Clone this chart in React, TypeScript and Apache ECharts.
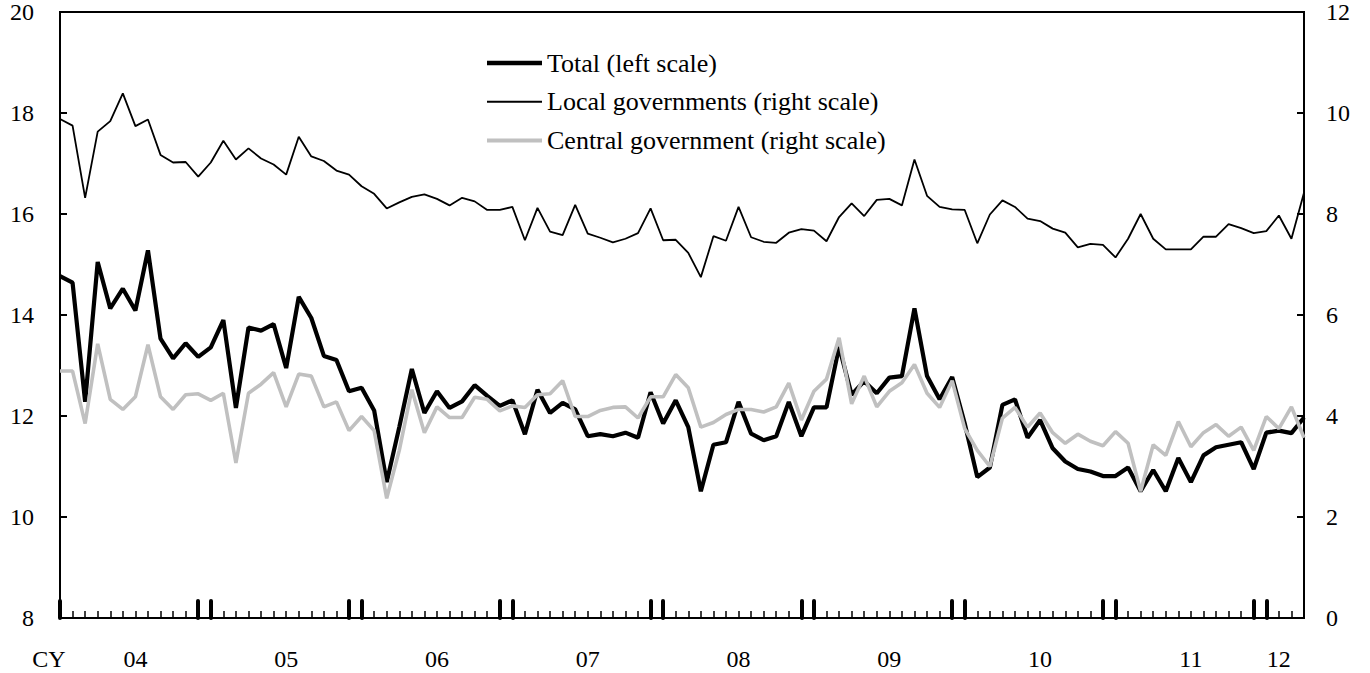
import React, { useEffect, useRef } from "react";
import * as echarts from "echarts";

// Monthly categories Jan 2004 – Apr 2012
const months: string[] = [];
for (let y = 2004; y <= 2012; y++) {
  for (let m = 1; m <= 12; m++) {
    if (months.length < 100) months.push(`${y}-${m < 10 ? "0" + m : m}`);
  }
}

// Year label tick positions (month) and texts
const yearLabelMonths = ["2004-07", "2005-07", "2006-07", "2007-07", "2008-07", "2009-07", "2010-07", "2011-07", "2012-02"];
const yearLabels = ["04", "05", "06", "07", "08", "09", "10", "11", "12"];
const axisPrefix = "CY";

const leftTicks = [8, 10, 12, 14, 16, 18, 20];
const rightTicks = [0, 2, 4, 6, 8, 10, 12];

const seriesNames = ["Total (left scale)", "Local governments (right scale)", "Central government (right scale)"];

const total = [
  14.77, 14.64, 12.28, 15.05, 14.13, 14.52, 14.09, 15.28, 13.53, 13.14,
  13.44, 13.17, 13.36, 13.9, 12.16, 13.75, 13.69, 13.82, 12.95, 14.36,
  13.94, 13.19, 13.11, 12.49, 12.56, 12.11, 10.69, 11.78, 12.93, 12.06,
  12.49, 12.16, 12.29, 12.61, 12.4, 12.2, 12.31, 11.64, 12.52, 12.06,
  12.26, 12.13, 11.6, 11.64, 11.6, 11.67, 11.57, 12.47, 11.85, 12.31,
  11.78, 10.51, 11.43, 11.48, 12.28, 11.65, 11.52, 11.6, 12.28, 11.6,
  12.17, 12.17, 13.37, 12.42, 12.69, 12.45, 12.76, 12.79, 14.13, 12.79,
  12.33, 12.77, 11.85, 10.79, 10.98, 12.22, 12.33, 11.57, 11.92, 11.36,
  11.1, 10.95, 10.9, 10.81, 10.81, 10.98, 10.51, 10.93, 10.51, 11.17,
  10.69, 11.22, 11.38, 11.43, 11.48, 10.95, 11.67, 11.71, 11.66, 11.97,
];

const local = [
  9.88, 9.75, 8.32, 9.63, 9.84, 10.39, 9.74, 9.87, 9.17, 9.02,
  9.03, 8.74, 9.02, 9.45, 9.08, 9.3, 9.1, 8.98, 8.78, 9.53,
  9.14, 9.05, 8.86, 8.78, 8.55, 8.4, 8.11, 8.23, 8.34, 8.39,
  8.3, 8.17, 8.32, 8.25, 8.08, 8.08, 8.14, 7.48, 8.12, 7.65,
  7.58, 8.18, 7.61, 7.53, 7.44, 7.51, 7.62, 8.11, 7.48, 7.49,
  7.23, 6.75, 7.56, 7.47, 8.14, 7.54, 7.45, 7.43, 7.63, 7.7,
  7.67, 7.46, 7.94, 8.21, 7.96, 8.28, 8.3, 8.17, 9.08, 8.36,
  8.14, 8.09, 8.08, 7.42, 7.99, 8.27, 8.14, 7.91, 7.86, 7.71,
  7.63, 7.34, 7.41, 7.39, 7.14, 7.51, 8.0, 7.51, 7.3, 7.3,
  7.3, 7.55, 7.55, 7.8, 7.72, 7.62, 7.66, 7.97, 7.51, 8.42,
];

const central = [
  4.89, 4.89, 3.85, 5.43, 4.33, 4.13, 4.38, 5.41, 4.38, 4.13,
  4.42, 4.44, 4.31, 4.45, 3.07, 4.45, 4.63, 4.86, 4.18, 4.83,
  4.79, 4.18, 4.28, 3.71, 3.99, 3.71, 2.37, 3.32, 4.52, 3.67,
  4.18, 3.97, 3.97, 4.37, 4.33, 4.1, 4.2, 4.17, 4.42, 4.44,
  4.7, 3.99, 3.99, 4.11, 4.17, 4.18, 3.96, 4.38, 4.38, 4.82,
  4.56, 3.78, 3.87, 4.03, 4.13, 4.13, 4.08, 4.18, 4.65, 3.92,
  4.49, 4.73, 5.55, 4.24, 4.79, 4.18, 4.49, 4.66, 5.02, 4.45,
  4.17, 4.7, 3.75, 3.32, 3.0, 3.96, 4.17, 3.78, 4.06, 3.67,
  3.46, 3.64, 3.5, 3.41, 3.69, 3.46, 2.51, 3.43, 3.22, 3.89,
  3.39, 3.67, 3.83, 3.6, 3.78, 3.32, 3.99, 3.75, 4.18, 3.57,
];

const FONT = "'Liberation Serif', 'Times New Roman', serif";

// legend line icon: 55x14 box with a horizontal bar of given thickness
const lineIcon = (t: number) => {
  const y0 = 7 - t / 2;
  const y1 = 7 + t / 2;
  return `path://M0,0L0,0M0,14L0,14M55,0L55,0M0,${y0}H55V${y1}H0Z`;
};

export default function App() {
  const ref = useRef<HTMLDivElement>(null);
  useEffect(() => {
    if (!ref.current) return;
    const chart = echarts.init(ref.current, undefined, { renderer: "svg" });
    const labelStyle = { fontFamily: FONT, fontSize: 24, color: "#000" };
    chart.setOption({
      animation: false,
      backgroundColor: "#fff",
      grid: {
        left: 60,
        right: 66,
        top: 11,
        bottom: 55,
        show: true,
        borderColor: "#000",
        borderWidth: 2,
        backgroundColor: "transparent",
      },
      legend: {
        orient: "vertical",
        left: 487,
        top: 48,
        padding: 0,
        itemWidth: 55,
        itemHeight: 14,
        itemGap: 8.7,
        data: [
          { name: seriesNames[0], icon: lineIcon(4.5), itemStyle: { color: "#000" } },
          { name: seriesNames[1], icon: lineIcon(2), itemStyle: { color: "#000" } },
          { name: seriesNames[2], icon: lineIcon(4), itemStyle: { color: "#c0c0c0" } },
        ],
        textStyle: { fontFamily: FONT, fontSize: 26, color: "#000", lineHeight: 30 },
      },
      xAxis: [
        {
          type: "category",
          data: months,
          boundaryGap: false,
          axisLine: { show: true, lineStyle: { color: "#000", width: 2 } },
          axisTick: { show: true, inside: true, length: 7, interval: 0, lineStyle: { color: "#000", width: 1.5 } },
          axisLabel: {
            show: true,
            interval: (i: number, v: string) => yearLabelMonths.includes(v),
            formatter: (v: string) => yearLabels[yearLabelMonths.indexOf(v)],
            margin: 29,
            lineHeight: 24,
            ...labelStyle,
          },
          splitLine: { show: false },
        },
        {
          type: "category",
          data: months,
          boundaryGap: false,
          position: "bottom",
          axisLine: { show: false },
          axisTick: {
            show: true,
            inside: true,
            length: 17,
            interval: (i: number) => i % 12 === 0 || i % 12 === 11,
            lineStyle: { color: "#000", width: 4, cap: "round" },
          },
          axisLabel: { show: false },
          splitLine: { show: false },
        },
      ],
      yAxis: [
        {
          type: "value",
          position: "left",
          min: leftTicks[0],
          max: leftTicks[leftTicks.length - 1],
          interval: 2,
          axisLine: { show: true, lineStyle: { color: "#000", width: 2 } },
          axisTick: { show: true, inside: true, length: 7, lineStyle: { color: "#000", width: 2 } },
          axisLabel: { margin: 26, ...labelStyle },
          splitLine: { show: false },
        },
        {
          type: "value",
          position: "right",
          min: rightTicks[0],
          max: rightTicks[rightTicks.length - 1],
          interval: 2,
          axisLine: { show: true, lineStyle: { color: "#000", width: 2 } },
          axisTick: { show: true, inside: true, length: 7, lineStyle: { color: "#000", width: 2 } },
          axisLabel: { margin: 22, ...labelStyle },
          splitLine: { show: false },
        },
      ],
      graphic: [
        {
          type: "text",
          x: 49,
          y: 659,
          z: 10,
          style: {
            text: axisPrefix,
            fontFamily: FONT,
            fontSize: 24,
            lineHeight: 24,
            fill: "#000",
            align: "center",
            verticalAlign: "middle",
          },
        },
      ],
      series: [
        {
          name: seriesNames[0],
          type: "line",
          data: total,
          xAxisIndex: 0,
          yAxisIndex: 0,
          symbol: "none",
          lineStyle: { color: "#000", width: 4.2 },
          itemStyle: { color: "#000" },
        },
        {
          name: seriesNames[1],
          type: "line",
          data: local,
          xAxisIndex: 0,
          yAxisIndex: 1,
          symbol: "none",
          lineStyle: { color: "#000", width: 1.8 },
          itemStyle: { color: "#000" },
        },
        {
          name: seriesNames[2],
          type: "line",
          data: central,
          xAxisIndex: 0,
          yAxisIndex: 1,
          symbol: "none",
          lineStyle: { color: "#c0c0c0", width: 3.6 },
          itemStyle: { color: "#c0c0c0" },
        },
      ],
    });
    return () => chart.dispose();
  }, []);
  return (
    <div
      ref={ref}
      style={{ position: "fixed", left: 0, top: 0, width: 1370, height: 673, background: "#fff" }}
    />
  );
}
